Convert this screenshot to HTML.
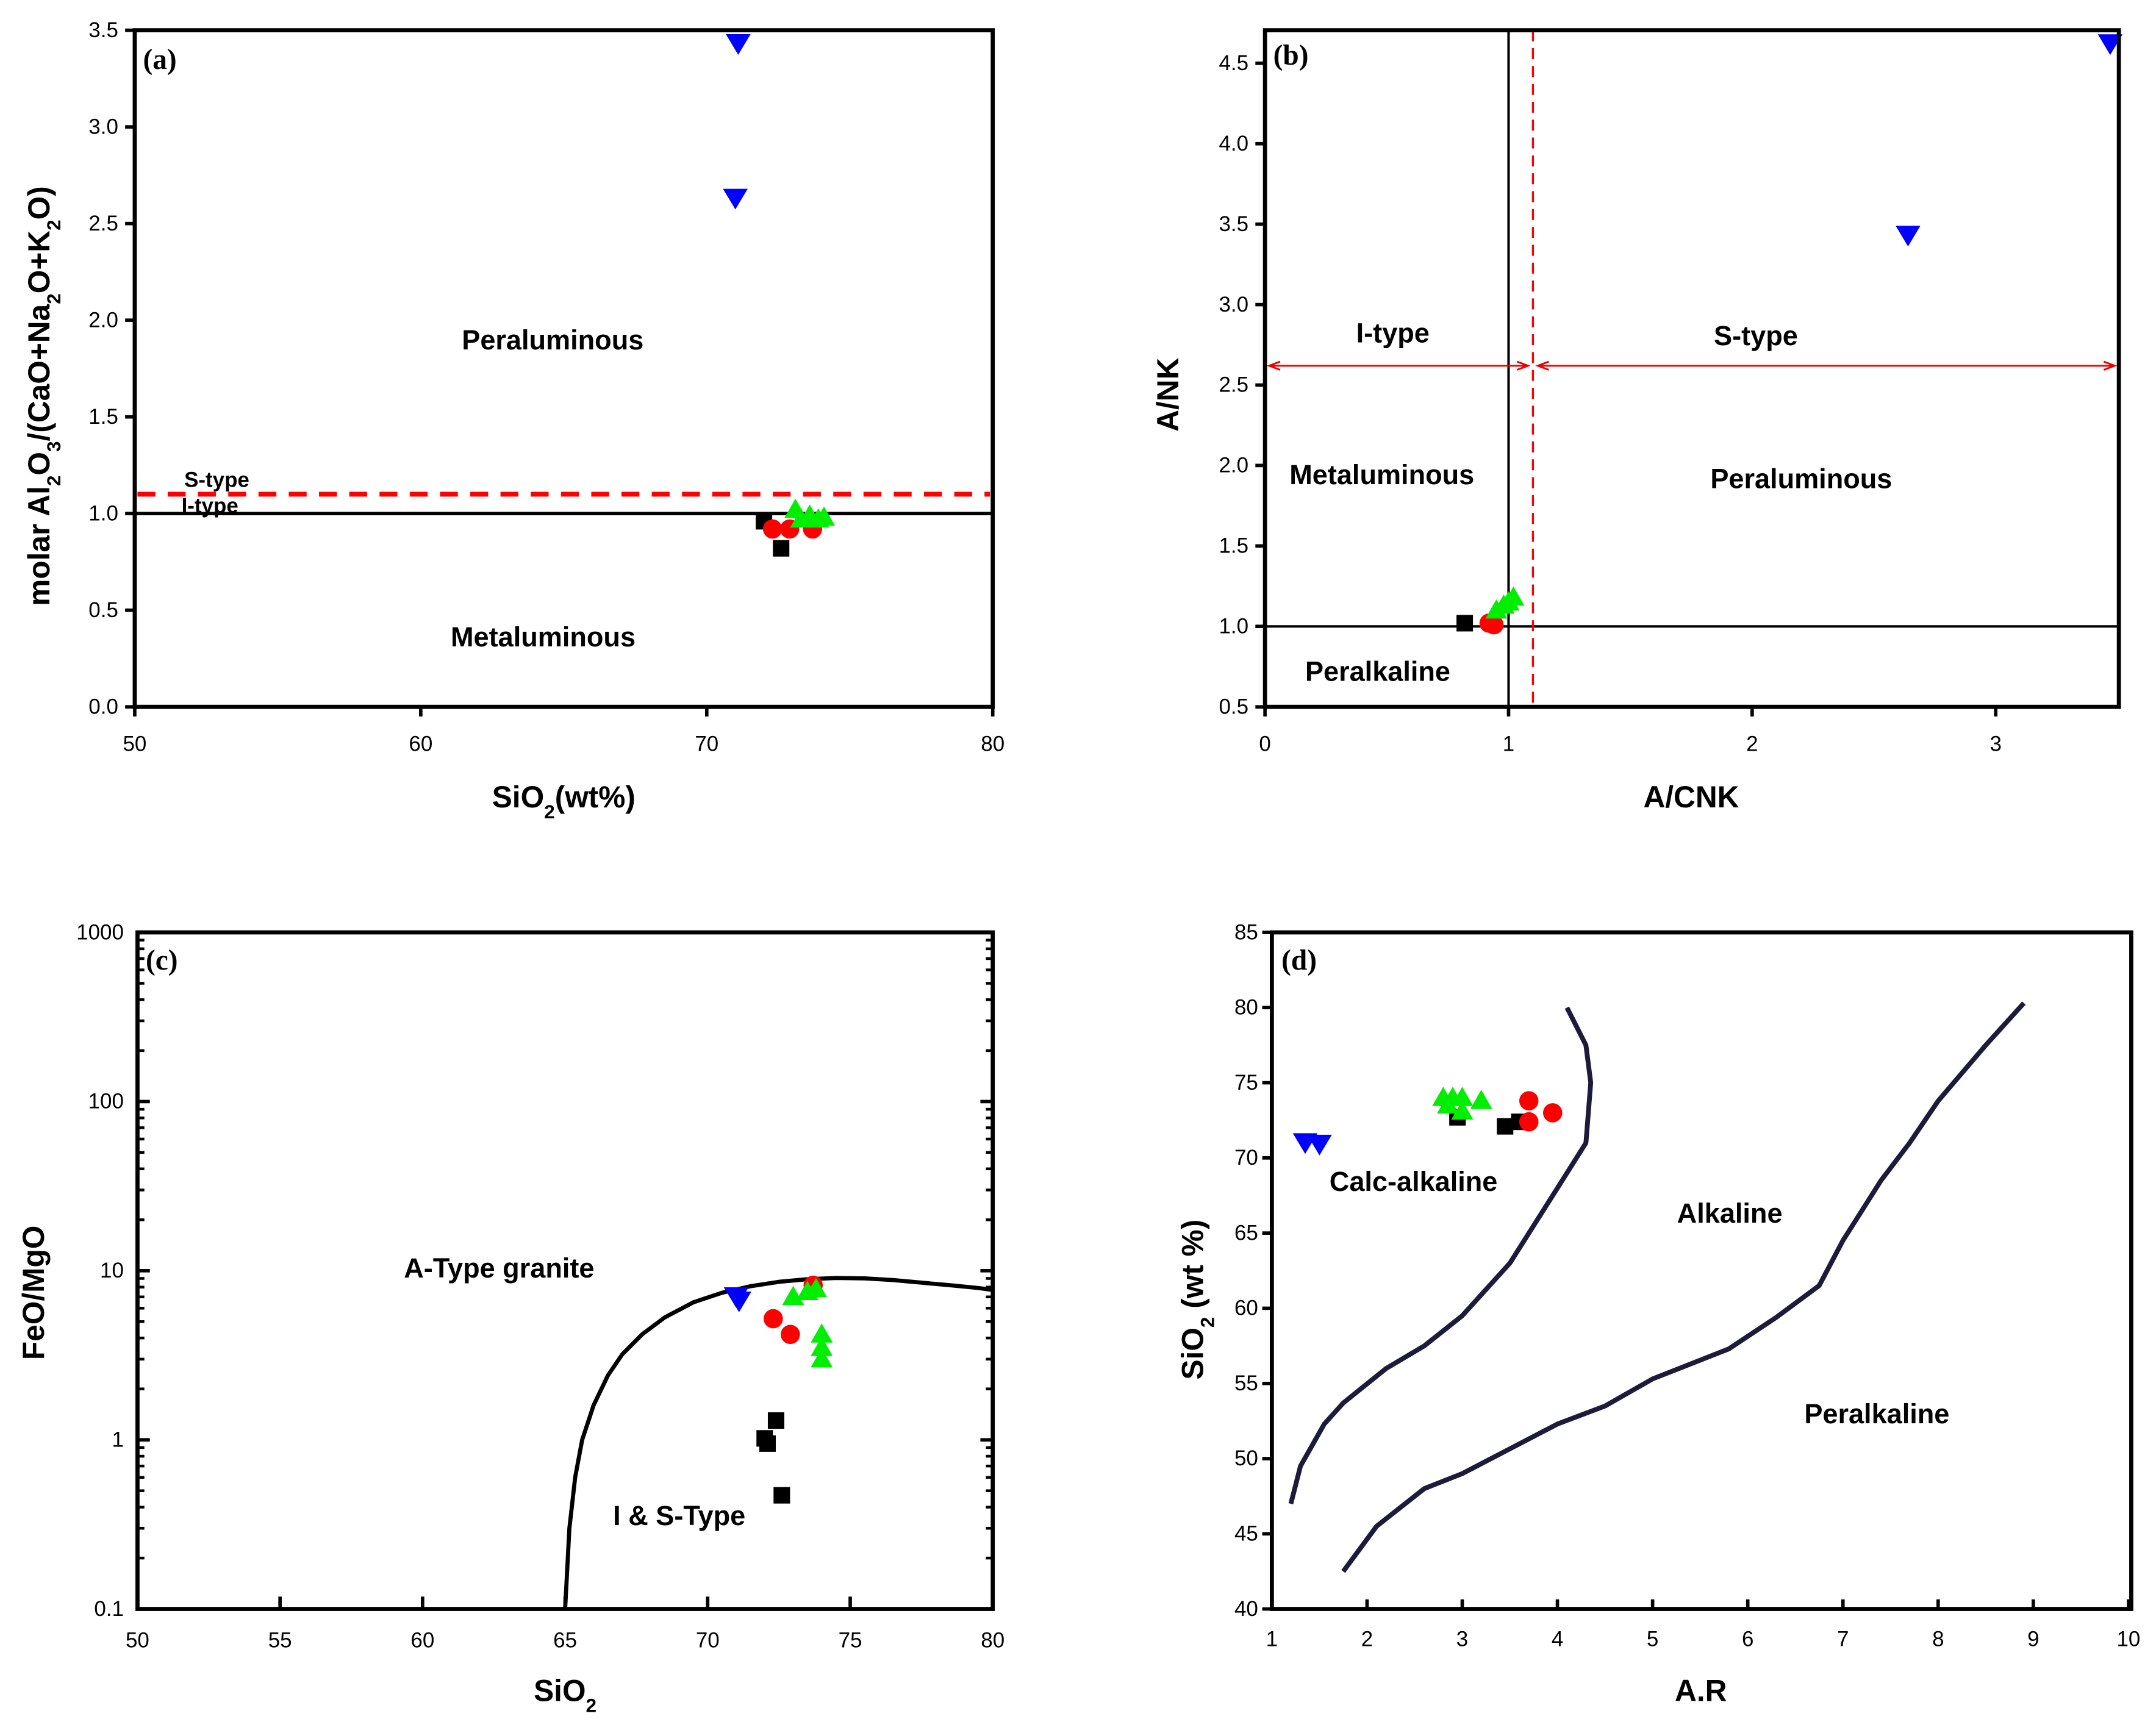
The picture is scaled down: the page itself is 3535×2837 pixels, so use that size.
<!DOCTYPE html>
<html><head><meta charset="utf-8"><style>
html,body{margin:0;padding:0;background:#fff;}
svg{display:block;}
text{font-family:"Liberation Sans",sans-serif;}
.tk{font-size:15.5px;fill:#000;}
.lb{font-size:20px;font-weight:bold;fill:#000;}
.ax{font-size:22px;font-weight:bold;fill:#000;}
.pl{font-family:"Liberation Serif",serif;font-size:21px;font-weight:bold;}
</style></head><body>
<svg id="fig" width="3535" height="2837" viewBox="0 0 1568 1258" preserveAspectRatio="none" xmlns="http://www.w3.org/2000/svg"></svg>
<script>
// Panel (a): SiO2 vs A/CNK
const aBlueX=[71.1,71.0], aBlueY=[3.43,2.63];
const aBlackX=[72.0,72.6], aBlackY=[0.96,0.82];
const aRedX=[72.3,72.9,73.7], aRedY=[0.92,0.92,0.92];
const aGreenX=[73.1,73.6,74.1,73.9,73.3], aGreenY=[1.02,0.99,0.98,0.97,0.97];
const aXTicks=[50,60,70,80], aYTicks=[0,0.5,1.0,1.5,2.0,2.5,3.0,3.5];
// Panel (b): A/CNK vs A/NK
const bBlueX=[3.47,2.64], bBlueY=[4.62,3.43];
const bBlackX=[0.82], bBlackY=[1.02];
const bRedX=[0.92,0.94], bRedY=[1.02,1.01];
const bGreenX=[0.95,0.98,1.0,1.02], bGreenY=[1.1,1.13,1.15,1.18];
const bXTicks=[0,1,2,3], bYTicks=[0.5,1.0,1.5,2.0,2.5,3.0,3.5,4.0,4.5];
// Panel (c): SiO2 vs FeO/MgO (log)
const cCurveX=[65,65.15,65.35,65.6,66,66.5,67,67.7,68.5,69.5,70.5,71.5,72.5,73.5,74.5,75.5,76.5,77.5,78.5,79.5,80];
const cCurveY=[0.1,0.3,0.6,1.0,1.6,2.4,3.2,4.2,5.3,6.5,7.4,8.1,8.6,8.9,9.05,9.0,8.8,8.5,8.2,7.9,7.7];
const cBlueX=[71.0,71.1], cBlueY=[7.0,6.6];
const cRedX=[72.3,72.9,73.7], cRedY=[5.2,4.2,8.2];
const cGreenX=[73.0,73.5,73.8,74.0,74.0,74.0], cGreenY=[7.0,7.5,7.8,4.2,3.5,3.0];
const cBlackX=[72.0,72.1,72.4,72.6], cBlackY=[1.02,0.95,1.3,0.47];
const cXTicks=[50,55,60,65,70,75,80], cYTicks=[0.1,1,10,100,1000];
// Panel (d): A.R vs SiO2
const dCurve1X=[1.2,1.3,1.55,1.75,2.2,2.6,3.0,3.5,4.0,4.3,4.35,4.3,4.1];
const dCurve1Y=[47,49.5,52.3,53.7,56,57.5,59.5,63,68,71,75,77.5,80];
const dCurve2X=[1.75,2.1,2.6,3.0,4.0,4.5,5.0,5.8,6.3,6.75,7.0,7.4,7.7,8.0,8.5,8.9];
const dCurve2Y=[42.5,45.5,48,49,52.3,53.5,55.3,57.3,59.4,61.5,64.5,68.5,71,73.8,77.5,80.3];
const dBlueX=[1.35,1.5], dBlueY=[71,70.9];
const dGreenX=[2.8,2.9,3.0,3.2,3.0,2.85], dGreenY=[74,74,74,73.8,73.1,73.5];
const dBlackX=[2.95,3.45,3.6], dBlackY=[72.7,72.1,72.4];
const dRedX=[3.7,3.7,3.95], dRedY=[73.8,72.4,73];
const dXTicks=[1,2,3,4,5,6,7,8,9,10], dYTicks=[40,45,50,55,60,65,70,75,80,85];

const NS="http://www.w3.org/2000/svg", svg=document.getElementById('fig');
function el(tag,attrs,parent,txt){const e=document.createElementNS(NS,tag);for(const k in attrs)e.setAttribute(k,attrs[k]);if(txt!==undefined)e.textContent=txt;(parent||svg).appendChild(e);return e;}
function lin(d0,d1,r0,r1){return v=>r0+(v-d0)*(r1-r0)/(d1-d0);}
function lg(d0,d1,r0,r1){return v=>r0+(Math.log10(v)-Math.log10(d0))*(r1-r0)/(Math.log10(d1)-Math.log10(d0));}
function marker(g,type,cx,cy,name){let e;
 if(type==='sq') e=el('rect',{x:cx-6,y:cy-6,width:12,height:12,fill:'#000'},g);
 else if(type==='ci') e=el('circle',{cx:cx,cy:cy,r:7,fill:'#f00'},g);
 else if(type==='up') e=el('polygon',{points:`${cx},${cy-8} ${cx-8},${cy+6} ${cx+8},${cy+6}`,fill:'#0e0'},g);
 else e=el('polygon',{points:`${cx-9},${cy-7} ${cx+9},${cy-7} ${cx},${cy+8}`,fill:'#00f'},g);
 
 }
function series(g,xs,ys,sx,sy,type,name){xs.forEach((x,i)=>marker(g,type,sx(x),sy(ys[i]),name));}
function box(g,x0,y0,x1,y1){const r=el('rect',{x:x0,y:y0,width:x1-x0,height:y1-y0,fill:'none',stroke:'#000','stroke-width':3},g);
 
 }
function txt(g,x,y,s,cls,name,extra){const t=el('text',Object.assign({x:x,y:y,class:cls,'text-anchor':'middle'},extra||{}),g,s);
 
 return t;}
function curve(g,xs,ys,sx,sy,name,w,col){const d=xs.map((x,i)=>(i?'L':'M')+sx(x).toFixed(1)+','+sy(ys[i]).toFixed(1)).join(' ');
 const p=el('path',{d:d,fill:'none',stroke:col,'stroke-width':w,'stroke-linejoin':'round'},g);
 
 }
function mkg(name){const g=el('g',{});return g;}
const SUB='<tspan baseline-shift="sub" font-size="14">';

// ---- (a)
(function(){const g=mkg('panel-a');const X0=98,X1=722,Y0=22,Y1=514;
 const sx=lin(50,80,X0,X1), sy=lin(0,3.5,Y1,Y0);
 aXTicks.forEach(v=>{el('line',{x1:sx(v),x2:sx(v),y1:Y1,y2:Y1+7,stroke:'#000','stroke-width':2.5},g);txt(g,sx(v),Y1+32,v,'tk','x-tick-label');});
 aYTicks.forEach(v=>{el('line',{x1:X0-7,x2:X0,y1:sy(v),y2:sy(v),stroke:'#000','stroke-width':2.5},g);txt(g,X0-12,sy(v)+5,v.toFixed(1),'tk','y-tick-label',{'text-anchor':'end'});});
 const dl=el('line',{x1:X0+2,x2:X1-2,y1:sy(1.1),y2:sy(1.1),stroke:'#f00','stroke-width':3.5,'stroke-dasharray':'13,9'},g);
 
 const sl=el('line',{x1:X0,x2:X1,y1:sy(1.0),y2:sy(1.0),stroke:'#000','stroke-width':2.5},g);
 
 series(g,aBlackX,aBlackY,sx,sy,'sq','black-square-point');series(g,aRedX,aRedY,sx,sy,'ci','red-circle-point');
 series(g,aGreenX,aGreenY,sx,sy,'up','green-triangle-point');series(g,aBlueX,aBlueY,sx,sy,'dn','blue-triangle-point');
 box(g,X0,Y0,X1,Y1);
 txt(g,104,50,'(a)','pl','panel-label',{'text-anchor':'start'});
 txt(g,402,254,'Peraluminous','lb','region-peraluminous');
 txt(g,395,470,'Metaluminous','lb','region-metaluminous');
 txt(g,134,354,'S-type','tk','s-type-label',{'text-anchor':'start','font-weight':'bold','font-size':'14'});
 txt(g,132,373,'I-type','tk','i-type-label',{'text-anchor':'start','font-weight':'bold','font-size':'14'});
 const yt=txt(g,0,0,'','ax','y-axis-title',{transform:'translate(36,288) rotate(-90)','font-size':'23'});
 yt.innerHTML='molar Al'+SUB+'2</tspan>O'+SUB+'3</tspan>/(CaO+Na'+SUB+'2</tspan>O+K'+SUB+'2</tspan>O)';
 const xt=txt(g,410,587,'','ax','x-axis-title');xt.innerHTML='SiO'+SUB+'2</tspan>(wt%)';
})();
// ---- (b)
(function(){const g=mkg('panel-b');const X0=920,X1=1541,Y0=22,Y1=514;
 const sx=lin(0,3.5,X0,X1-1), sy=lin(0.5,4.5,Y1,46);
 bXTicks.forEach(v=>{el('line',{x1:sx(v),x2:sx(v),y1:Y1,y2:Y1+7,stroke:'#000','stroke-width':2.5},g);txt(g,sx(v),Y1+32,v,'tk','x-tick-label');});
 bYTicks.forEach(v=>{el('line',{x1:X0-7,x2:X0,y1:sy(v),y2:sy(v),stroke:'#000','stroke-width':2.5},g);txt(g,X0-12,sy(v)+5,v.toFixed(1),'tk','y-tick-label',{'text-anchor':'end'});});
 let l=el('line',{x1:sx(1),x2:sx(1),y1:Y0,y2:Y1,stroke:'#000','stroke-width':1.8},g);
 l=el('line',{x1:X0,x2:X1,y1:sy(1),y2:sy(1),stroke:'#000','stroke-width':1.8},g);
 l=el('line',{x1:sx(1.1),x2:sx(1.1),y1:Y0,y2:Y1,stroke:'#f00','stroke-width':1.5,'stroke-dasharray':'8,5'},g);
 const ay=sy(2.62);
 [[X0+3,sx(1.08)],[sx(1.12),X1-3]].forEach(([a,b])=>{const e=el('path',{d:`M${a},${ay} L${b},${ay} M${a+8},${ay-3} L${a},${ay} L${a+8},${ay+3} M${b-8},${ay-3} L${b},${ay} L${b-8},${ay+3}`,stroke:'#e00','stroke-width':1.3,fill:'none'},g);
  });
 series(g,bBlackX,bBlackY,sx,sy,'sq','black-square-point');series(g,bRedX,bRedY,sx,sy,'ci','red-circle-point');
 series(g,bGreenX,bGreenY,sx,sy,'up','green-triangle-point');series(g,bBlueX,bBlueY,sx,sy,'dn','blue-triangle-point');
 box(g,X0,Y0,X1,Y1);
 txt(g,926,47,'(b)','pl','panel-label',{'text-anchor':'start'});
 txt(g,1013,249,'I-type','lb','i-type-label');txt(g,1277,251,'S-type','lb','s-type-label');
 txt(g,1005,352,'Metaluminous','lb','region-metaluminous');txt(g,1310,355,'Peraluminous','lb','region-peraluminous');
 txt(g,1002,495,'Peralkaline','lb','region-peralkaline');
 txt(g,0,0,'A/NK','ax','y-axis-title',{transform:'translate(857,287) rotate(-90)','font-size':'23'});
 txt(g,1230,587,'A/CNK','ax','x-axis-title');
})();
// ---- (c)
(function(){const g=mkg('panel-c');const X0=100,X1=722,Y0=678,Y1=1170;
 const sx=lin(50,80,X0,X1), sy=lg(0.1,1000,Y1,Y0);
 cXTicks.forEach(v=>{el('line',{x1:sx(v),x2:sx(v),y1:Y1,y2:Y1-9,stroke:'#000','stroke-width':2.5},g);txt(g,sx(v),Y1+28,v,'tk','x-tick-label');});
 cYTicks.forEach(v=>{[X0,X1].forEach(x=>el('line',{x1:x,x2:x+(x===X0?9:-9),y1:sy(v),y2:sy(v),stroke:'#000','stroke-width':2.5},g));txt(g,X0-10,sy(v)+5,v,'tk','y-tick-label',{'text-anchor':'end'});});
 cYTicks.slice(0,-1).forEach(d=>{for(let k=2;k<10;k++){const y=sy(d*k);[X0,X1].forEach(x=>el('line',{x1:x,x2:x+(x===X0?5:-5),y1:y,y2:y,stroke:'#000','stroke-width':2},g));}});
 curve(g,cCurveX,cCurveY,sx,sy,'a-type-boundary-curve',3,'#000');
 series(g,cBlackX,cBlackY,sx,sy,'sq','black-square-point');series(g,cRedX,cRedY,sx,sy,'ci','red-circle-point');
 series(g,cGreenX,cGreenY,sx,sy,'up','green-triangle-point');series(g,cBlueX,cBlueY,sx,sy,'dn','blue-triangle-point');
 box(g,X0,Y0,X1,Y1);
 txt(g,106,705,'(c)','pl','panel-label',{'text-anchor':'start'});
 txt(g,363,929,'A-Type granite','lb','region-a-type');txt(g,494,1109,'I & S-Type','lb','region-i-s-type');
 txt(g,0,0,'FeO/MgO','ax','y-axis-title',{transform:'translate(32,940) rotate(-90)','font-size':'23'});
 const xt=txt(g,411,1237,'','ax','x-axis-title');xt.innerHTML='SiO'+SUB+'2</tspan>';
})();
// ---- (d)
(function(){const g=mkg('panel-d');const X0=925,X1=1550,Y0=678,Y1=1170;
 const sx=lin(1,10,X0,1548), sy=lin(40,85,Y1,Y0);
 dXTicks.forEach(v=>{el('line',{x1:sx(v),x2:sx(v),y1:Y1,y2:Y1-7,stroke:'#000','stroke-width':2.5},g);txt(g,sx(v),Y1+27,v,'tk','x-tick-label');});
 dYTicks.forEach(v=>{el('line',{x1:X0,x2:X0-7,y1:sy(v),y2:sy(v),stroke:'#000','stroke-width':2.5},g);txt(g,X0-10,sy(v)+5,v,'tk','y-tick-label',{'text-anchor':'end'});});
 curve(g,dCurve1X,dCurve1Y,sx,sy,'calc-alkaline-boundary',3.5,'#1c1c3a');
 curve(g,dCurve2X,dCurve2Y,sx,sy,'peralkaline-boundary',3.5,'#1c1c3a');
 series(g,dBlackX,dBlackY,sx,sy,'sq','black-square-point');series(g,dRedX,dRedY,sx,sy,'ci','red-circle-point');
 series(g,dGreenX,dGreenY,sx,sy,'up','green-triangle-point');series(g,dBlueX,dBlueY,sx,sy,'dn','blue-triangle-point');
 box(g,X0,Y0,X1,Y1);
 txt(g,932,705,'(d)','pl','panel-label',{'text-anchor':'start'});
 txt(g,1028,866,'Calc-alkaline','lb','region-calc-alkaline');txt(g,1258,889,'Alkaline','lb','region-alkaline');
 txt(g,1365,1035,'Peralkaline','lb','region-peralkaline');
 const yt=txt(g,0,0,'','ax','y-axis-title',{transform:'translate(875,945) rotate(-90)','font-size':'23'});
 yt.innerHTML='SiO'+SUB+'2</tspan> (wt %)';
 txt(g,1237,1237,'A.R','ax','x-axis-title');
})();
</script>
</body></html>
